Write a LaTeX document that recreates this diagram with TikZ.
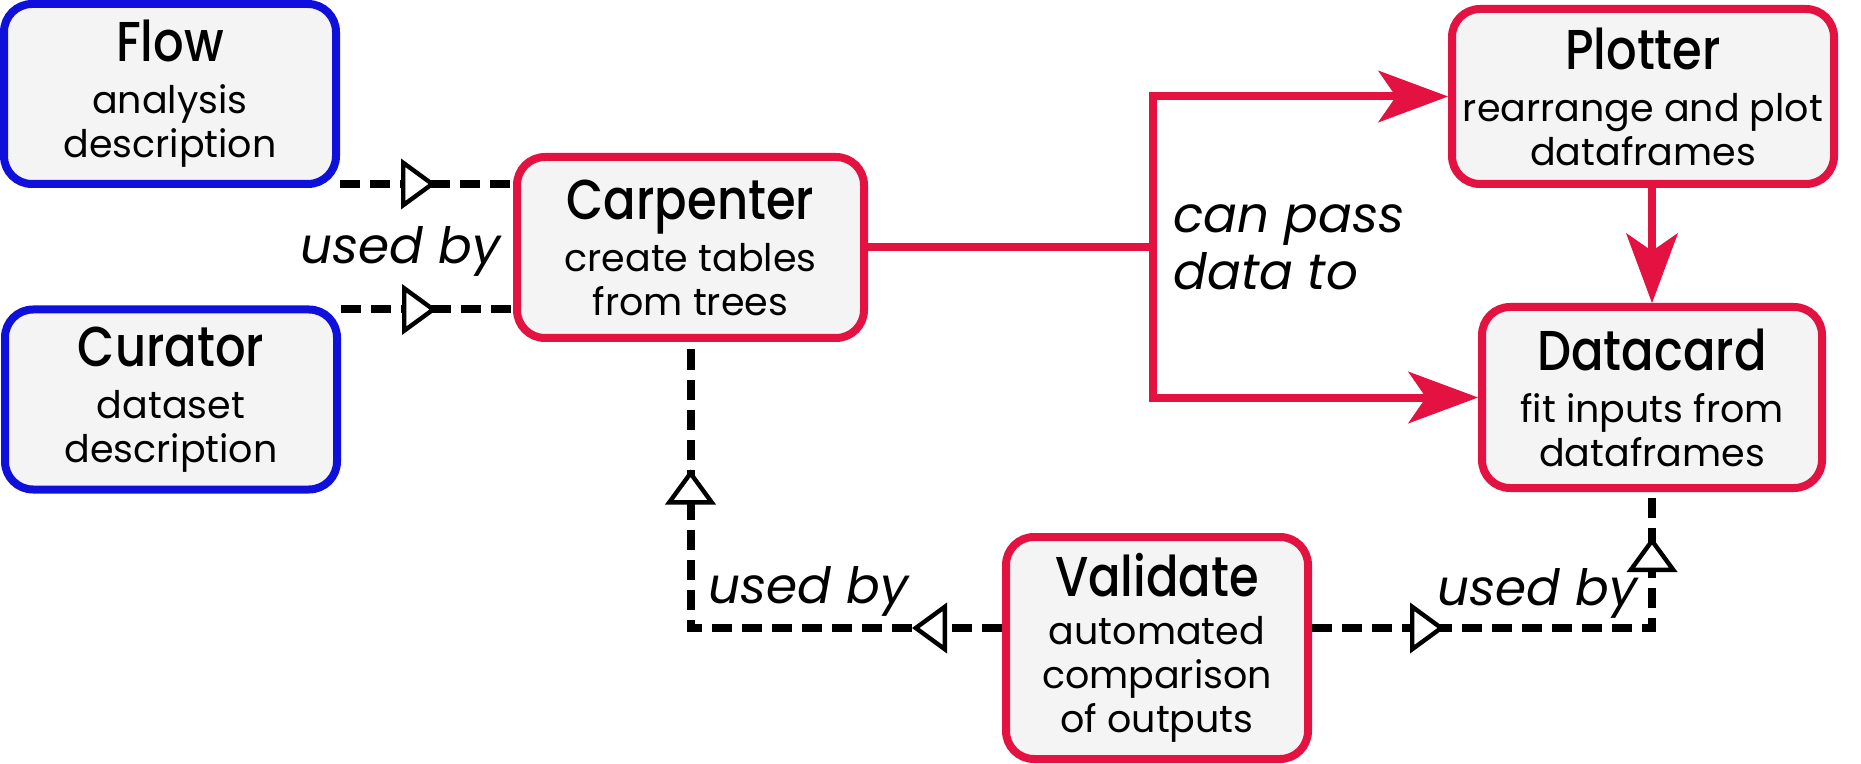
\documentclass[tikz,border=0pt]{standalone}
\usepackage{fontspec}
\setmainfont{Poppins}
\newfontfamily\titlefont{Poppins Medium}
\usetikzlibrary{arrows.meta,decorations.markings,calc}
\definecolor{boxblue}{RGB}{16,16,220}
\definecolor{boxred}{RGB}{227,18,64}
\definecolor{boxfill}{RGB}{244,244,244}
\newcommand{\ttl}[1]{\scalebox{1}[1.17]{\titlefont\fontsize{24pt}{24pt}\selectfont #1}}
\newcommand{\opentri}{\pgfsetdash{}{0pt}\arrow{Triangle[length=17.5pt, width=25pt, fill=white, line width=2.2pt]}}
\tikzset{redtip/.tip={Stealth[length=35pt, width=26pt, inset=9pt, line width=0.5pt]}}
\begin{document}
\begin{tikzpicture}[x=0.5pt,y=-0.5pt,
  box/.style={draw, line width=4pt, rounded corners=14pt, fill=boxfill, inner sep=0pt,
    align=center, font=\fontsize{19pt}{22pt}\selectfont},
  bluebox/.style={box, draw=boxblue},
  redbox/.style={box, draw=boxred},
  usedby/.style={draw=black, line width=4pt, dash pattern=on 10pt off 5pt},
  redline/.style={draw=boxred, line width=4pt},
  lbl/.style={inner sep=0pt, font=\fontsize{25pt}{28.5pt}\selectfont\itshape, align=left}]
\useasboundingbox (0,0) rectangle (1861,764);

\node[bluebox, minimum width=166pt, minimum height=90pt] (flow) at (170,94)
  {\ttl{Flow}\\[4pt]analysis\\description};
\node[bluebox, minimum width=166pt, minimum height=90pt] (cur) at (171,399.5)
  {\ttl{Curator}\\[4pt]dataset\\description};
\node[redbox, minimum width=173.5pt, minimum height=90.5pt] (carp) at (690.5,247.5)
  {\ttl{Carpenter}\\[4pt]create tables\\from trees};
\node[redbox, minimum width=191pt, minimum height=87.5pt] (plot) at (1643,96.5)
  {\ttl{Plotter}\\[4pt]rearrange and plot\\dataframes};
\node[redbox, minimum width=170pt, minimum height=90.5pt] (data) at (1652,397.5)
  {\ttl{Datacard}\\[4pt]fit inputs from\\dataframes};
\node[redbox, minimum width=151pt, minimum height=111pt] (val) at (1157,648)
  {\ttl{Validate}\\[2pt]automated\\comparison\\of outputs};

\coordinate (split) at (1153,247.5);
\coordinate (bus) at (0,628);

% red data flow
\draw[redline] (carp.east) -- (split);
\draw[redline, redtip-redtip, line join=miter] (plot.west) -- (split |- plot.west) -- (split |- data.west) -- (data.west);
\draw[redline, -redtip] (data.north |- plot.south) -- (data.north);

% used-by connectors
\draw[usedby, postaction={decorate, decoration={markings, mark=at position 48pt with {\opentri}}}]
  ($(flow.south east)+(0,-4)$) -- ($(carp.west |- flow.south east)+(0,-4)$);
\draw[usedby, postaction={decorate, decoration={markings, mark=at position 48pt with {\opentri}}}]
  ($(cur.north east)+(0,4)$) -- ($(carp.west |- cur.north east)+(0,4)$);
\draw[usedby, postaction={decorate, decoration={markings,
    mark=at position 45pt with {\opentri}, mark=at position 235pt with {\opentri}}}]
  (val.west |- bus) -- (carp.south |- bus) -- (carp.south);
\draw[usedby, postaction={decorate, decoration={markings,
    mark=at position 66.5pt with {\opentri}, mark=at position 215.5pt with {\opentri}}}]
  (val.east |- bus) -- (data.south |- bus) -- (data.south);

% labels
\node[lbl, anchor=base west] (ub1) at (300,264) {used by};
\node[lbl, anchor=base west] (ub2) at (708,603) {used by};
\node[lbl, anchor=base west] (ub3) at (1437,605) {used by};
\node[lbl, anchor=base west] (cpd) at (1173,290) {can pass\\data to};
\end{tikzpicture}
\end{document}
